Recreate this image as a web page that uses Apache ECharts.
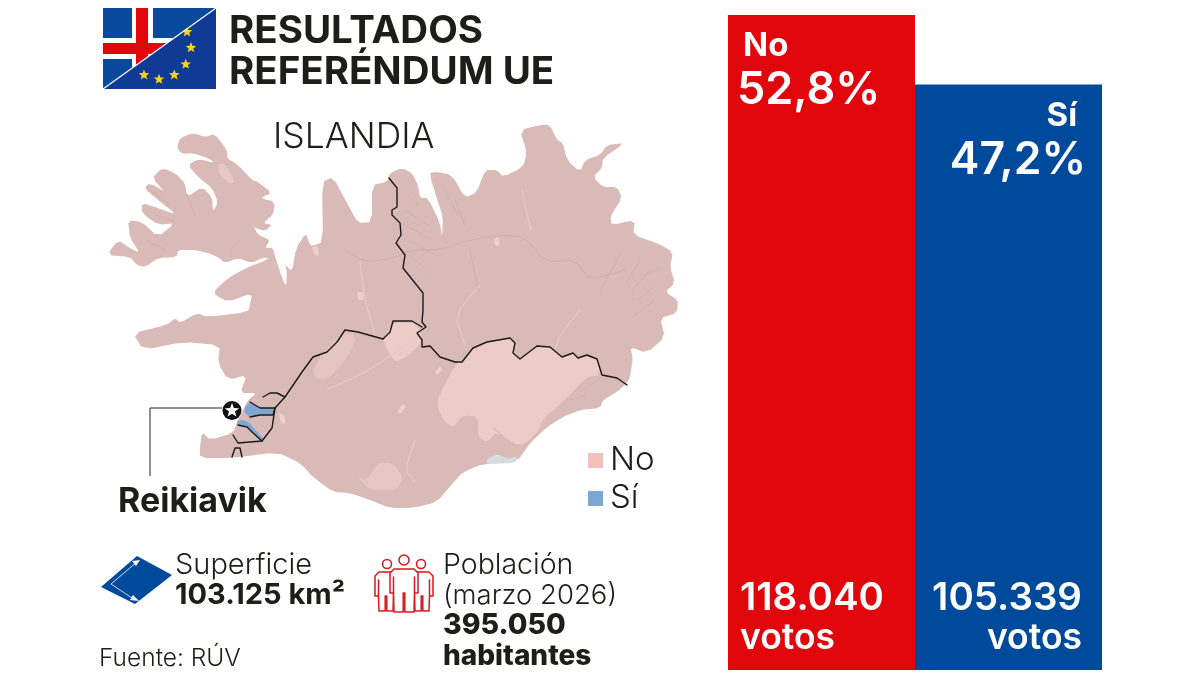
<!DOCTYPE html>
<html><head><meta charset="utf-8">
<style>html,body{margin:0;padding:0;background:#fff}#c{width:1200px;height:675px}</style>
<script src="https://cdn.jsdelivr.net/npm/echarts@6/dist/echarts.min.js"></script>
</head><body><div id="c"></div>
<script>
// ---- chart values ----
const categories = ['No', 'Sí'];
const percentages = [52.8, 47.2];
const votes = [118040, 105339];
const barColors = ['#E0060C', '#004A9B'];
const legendItems = ['No', 'Sí'];

// ---- map outlines ----
const coast = [[107,255],[118,240],[128,247],[140,253],[130,238],[128,220],[142,222],[158,237],[175,223],[158,225],[142,213],[142,203],[158,208],[177,215],[158,200],[144,188],[150,183],[167,193],[152,178],[162,168],[175,173],[185,183],[187,197],[202,187],[212,197],[213,212],[218,202],[212,188],[198,177],[188,165],[198,159],[215,163],[208,158],[192,153],[182,154],[177,148],[180,138],[193,133],[205,137],[215,134],[227,150],[227,158],[238,165],[252,180],[258,182],[272,193],[260,198],[275,202],[273,215],[263,223],[272,225],[265,231],[255,228],[252,223],[258,235],[270,240],[265,248],[273,248],[275,256],[281,275],[286,287],[287,272],[285,263],[292,272],[296,248],[306,233],[309,243],[312,246],[323,242],[322,182],[333,177],[348,205],[358,223],[372,222],[372,185],[387,182],[390,173],[402,168],[412,173],[418,185],[420,198],[428,198],[440,223],[442,238],[443,217],[438,202],[429,173],[437,172],[452,175],[465,198],[477,192],[485,170],[497,170],[503,177],[523,167],[527,153],[520,130],[540,125],[550,125],[557,140],[563,143],[567,160],[580,172],[585,160],[600,155],[607,145],[625,143],[603,158],[602,168],[593,177],[603,187],[617,187],[622,198],[610,217],[612,225],[635,220],[633,235],[657,243],[673,252],[670,267],[675,283],[665,292],[678,300],[677,313],[660,318],[665,337],[647,353],[630,347],[633,358],[630,377],[627,383],[617,392],[603,400],[600,408],[580,410],[563,417],[547,427],[530,443],[517,462],[483,464],[463,472],[453,483],[437,502],[413,508],[390,508],[370,500],[350,493],[333,492],[313,477],[300,463],[277,452],[233,458],[200,458],[200,447],[202,432],[210,440],[233,433],[238,420],[243,410],[248,400],[257,393],[240,393],[247,375],[228,380],[218,363],[220,345],[183,342],[143,350],[133,333],[167,325],[175,318],[180,323],[197,313],[207,317],[248,312],[250,305],[252,293],[228,302],[212,293],[228,278],[248,267],[262,262],[271,257],[262,258],[252,263],[238,258],[225,263],[218,257],[208,253],[195,250],[178,250],[177,257],[158,258],[145,267],[137,265],[130,257]];
const vatnajokull = [[463,362],[473,348],[487,342],[510,338],[515,343],[513,353],[520,359],[537,346],[550,347],[562,357],[573,353],[578,358],[587,355],[597,359],[600,375],[587,377],[567,398],[548,415],[535,435],[520,447],[497,432],[487,442],[478,437],[478,417],[463,415],[453,428],[443,420],[436,403],[448,378],[457,363]];
const hofsjokull = [[383,339],[393,322],[415,323],[420,330],[422,343],[405,358],[395,362],[387,350]];
const langjokull = [[313,367],[340,333],[357,335],[348,357],[327,380],[315,378]];
const myrdalsjokull = [[367,480],[377,463],[393,463],[403,477],[397,490],[370,490],[357,477]];
const drangajokull = [[217,165],[225,163],[235,182],[230,184],[220,175]];
const lakes = [[[397,412],[403,403],[406,407],[401,414]],[[435,372],[440,366],[442,370],[437,375]],[[278,412],[284,415],[286,424],[281,423]],[[495,238],[500,237],[499,247],[494,244]],[[312,247],[318,246],[319,256],[314,255]],[[357,292],[363,292],[364,300],[358,300]]];
const tongue = [[487,459],[497,454],[508,459],[517,456],[516,463],[487,464]];
const siNorth = [[250,402],[260,408],[275,408],[274,414],[260,415],[250,417],[244,412],[245,407]];
const siSouth = [[238,420],[248,421],[257,432],[265,440],[260,441],[252,432],[247,427],[237,425]];

const borderMain = [[389,178],[397,188],[397,207],[392,210],[392,215],[400,223],[401,235],[396,243],[405,255],[403,268],[415,283],[423,293],[423,310],[422,322],[426,327],[417,333],[422,340],[422,347],[430,346],[440,357],[455,362],[462,362],[473,348],[487,342],[510,338],[515,343],[513,353],[520,359],[537,346],[550,347],[562,357],[573,353],[578,358],[587,355],[597,359],[602,375],[617,378],[627,385]];
const borderWest = [[422,327],[412,321],[393,321],[390,332],[383,339],[358,332],[345,330],[337,342],[327,352],[313,357],[302,372],[285,397],[275,408]];
const borderLoop = [[285,397],[277,393],[270,393],[263,397]];
const borderNorthSi = [[250,402],[260,408],[275,408],[273,415],[260,415],[250,417]];
const borderEastSi = [[275,408],[272,428],[262,441],[238,443],[233,435]];
const borderSouthSi = [[238,425],[247,427],[252,432],[262,441]];
const borderGrind = [[232,457],[235,448],[240,448],[242,457]];
const faintDark = [[[345,250],[365,262],[395,258],[410,250],[440,250],[470,240],[500,235],[525,237],[545,262],[575,260],[590,280],[625,270]],[[620,255],[600,290]],[[640,260],[625,285]],[[650,270],[632,290]],[[655,300],[635,315]],[[470,250],[478,290]],[[408,195],[418,205]],[[405,210],[428,225]],[[405,225],[432,240]],[[408,240],[435,255]],[[410,255],[432,275]],[[445,190],[458,215]],[[455,200],[465,225]],[[150,190],[170,205]],[[145,240],[165,250]],[[155,215],[175,222]],[[185,190],[195,215]],[[230,250],[240,240]],[[660,268],[645,275]],[[655,285],[638,300]],[[590,385],[600,378]],[[570,400],[585,395]],[[540,425],[550,412]],[[493,428],[503,436]]];
const faintLight = [[[522,190],[525,205],[531,230]],[[360,262],[365,300],[375,335]],[[480,285],[455,315],[465,345]],[[580,310],[560,335],[555,350]],[[327,390],[370,370],[420,335]],[[415,440],[405,470],[415,482]]];

// ---- style helpers ----
const INK = '#1d1d1b', FONT = 'Inter, "Liberation Sans", sans-serif';
const flip = pts => pts.map(p => [p[0], 675 - p[1]]);
const soften = (pts, closed) => { const out = closed ? [] : [pts[0]]; const n = pts.length; const m = closed ? n : n - 1;
  for (let i = 0; i < m; i++) { const a = pts[i], b = pts[(i + 1) % n]; out.push([a[0]*.8+b[0]*.2, a[1]*.8+b[1]*.2], [a[0]*.2+b[0]*.8, a[1]*.2+b[1]*.8]); }
  if (!closed) out.push(pts[n-1]); return out; };
const poly = (name, pts) => { const s = soften(pts, true); return {type:'Feature', properties:{name}, geometry:{type:'Polygon', coordinates:[flip(s.concat([s[0]]))]}}; };
const features = [poly('Islandia', coast), poly('Vatnajökull', vatnajokull), poly('Hofsjökull', hofsjokull), poly('Langjökull', langjokull), poly('Mýrdalsjökull', myrdalsjokull), poly('Drangajökull', drangajokull), poly('Hielo', tongue), poly('Sí norte', siNorth), poly('Sí sur', siSouth)].concat(lakes.map((l,i)=>poly('Lago '+i, l)));
echarts.registerMap('islandia', {type:'FeatureCollection', features});
const regionFill = {'Islandia':'#D9BAB7','Vatnajökull':'#EDCBC7','Hofsjökull':'#EDCBC7','Langjökull':'#E6C5C1','Mýrdalsjökull':'#E6C6C2','Drangajökull':'#E8C8C5','Hielo':'#D5DDE0','Sí norte':'#7EA6D3','Sí sur':'#7EA6D3'};
const regions = features.map(f => { const n=f.properties.name; return {name:n, itemStyle:{areaColor:regionFill[n]||'#F0CFCB', borderWidth:0}, label:{show:false}, silent:true}; });

const star = (cx,cy,r) => { const a=[]; for(let i=0;i<10;i++){const rr=i%2?r*0.42:r, t=-Math.PI/2+i*Math.PI/5; a.push([cx+rr*Math.cos(t),cy+rr*Math.sin(t)]);} return a; };
const BASE = 0.83;
const T = (x,baseline,text,size,weight,o={}) => ({type:'text',x,y:baseline-BASE*size,silent:true,style:Object.assign({text,fontSize:size,fontWeight:weight,fontFamily:FONT,fill:INK},o)});
const R = (x,y,w,h,fill) => ({type:'rect',shape:{x,y,width:w,height:h},silent:true,style:{fill}});
const P = (points,fill) => ({type:'polygon',shape:{points},silent:true,style:{fill}});
const L = (points,stroke,lw) => ({type:'polyline',shape:{points},silent:true,style:{stroke,fill:null,lineWidth:lw}});
const euStars = [[191,47.7],[185.7,64.3],[174.3,75],[159,79.3],[144,75],[187,32]];
const person = (cx,top,hw,bottom) => ({type:'polygon',silent:true,shape:{points:[[cx-hw+4,top],[cx+hw-4,top],[cx+hw,top+4],[cx+hw,top+24],[cx+hw-3.5,top+24],[cx+hw-3.5,top+8],[cx+hw-3.5,top+24],[cx+hw-4,bottom],[cx+0.8,bottom],[cx+0.8,top+24],[cx-0.8,top+24],[cx-0.8,bottom],[cx-hw+4,bottom],[cx-hw+3.5,top+24],[cx-hw+3.5,top+8],[cx-hw+3.5,top+24],[cx-hw,top+24],[cx-hw,top+4]]},style:{fill:'#fff',stroke:'#D9161E',lineWidth:1.5,lineJoin:'round'}});
const head = (cx,cy,r) => ({type:'circle',silent:true,shape:{cx,cy,r},style:{fill:'#fff',stroke:'#D9161E',lineWidth:1.5}});

const graphics = [
  // flag
  R(103,8,113,81,'#0A4A9C'),
  R(132,8,21,81,'#fff'), R(103,38,113,21,'#fff'),
  R(136,8,12,81,'#E0060C'), R(103,43,113,11,'#E0060C'),
  P([[103,89],[216,8],[216,89]],'#0F3B94'),
  ...euStars.map(s=>P(star(s[0],s[1],5.6),'#FFD617')),
  P([[172,39],[200,19],[172,19]],'#0A4A9C'),
  L([[103,89],[216,8]],'#fff',1.2),
  // titles
  T(229,44,'RESULTADOS',38.5,700), T(229,85,'REFERÉNDUM UE',38.5,700),
  T(273,149,'ISLANDIA',35.5,300),
  // capital marker
  L([[222,408],[150,408],[150,476]],'#222',1),
  {type:'circle',silent:true,shape:{cx:232,cy:410.5,r:9.5},style:{fill:'#111'}},
  P(star(232,410.5,7.5),'#fff'),
  T(118,513,'Reikiavik',34,700),
  // map legend
  R(588,453,15,15,'#F3BFBC'), R(588,491,15,15,'#7EA6D3'),
  T(610,471,legendItems[0],33,300), T(610,509,legendItems[1],33,300),
  // area
  P([[101,587],[137,556],[172,575],[135,604]],'#004A9B'),
  L([[137,562],[111,584],[135,600]],'#fff',0.8),
  P([[140,560],[132,561],[136,566]],'#fff'), P([[139,601],[130,600],[133,595]],'#fff'),
  T(175,575,'Superficie',29,300),
  T(175,605,'103.125 km²',29,700),
  // population
  person(386,572,11,611), person(422,572,11,611),
  head(387,564,4.5), head(421,564,4.5),
  person(404,569,14,612), head(404,560,5),
  T(443,575,'Población',28.5,300),
  T(443,605,'(marzo 2026)',27.5,300),
  T(443,635,'395.050',28.5,800),
  T(443,666,'habitantes',28,800),
  T(99,666,'Fuente: RÚV',24.5,300)
];
const lineSet = (arr,color,width,z) => ({type:'lines',coordinateSystem:'geo',polyline:true,silent:true,z,lineStyle:{color,width,opacity:1,cap:'round',join:'round'},data:arr.map(c=>({coords:flip(c)}))});
const fmtVotes = v => String(v).replace(/\B(?=(\d{3})+$)/g,'.');

const topLabel = (i) => ({show:true,position:i===0?[9,12]:['91.5%',13],align:i===0?'left':'right',verticalAlign:'top',
  formatter:p=>`{n|${p.name}}\n{v|${String(p.value).replace('.',',')}%}`,
  rich:{n:{fontFamily:FONT,fontSize:33,fontWeight:700,color:'#fff',lineHeight:38,align:i===0?'left':'right',padding:i===0?[0,0,0,6]:[0,9,0,0]},v:{fontFamily:FONT,fontSize:i===0?45:44.5,fontWeight:600,color:'#fff',lineHeight:50,align:i===0?'left':'right'}}});
const botLabel = (i) => ({show:true,position:i===0?'insideBottomLeft':'insideBottomRight',distance:12,offset:i===0?[0,0]:[-8,0],
  formatter:p=>`{n|${fmtVotes(votes[i])}}\n{v|votos}`,
  rich:{n:{fontFamily:FONT,fontSize:38.5,fontWeight:600,color:'#fff',lineHeight:39,align:i===0?'left':'right'},v:{fontFamily:FONT,fontSize:35.5,fontWeight:600,color:'#fff',lineHeight:40,align:i===0?'left':'right'}}});

const chart = echarts.init(document.getElementById('c'),null,{renderer:'canvas'});
chart.setOption({
  animation:false,backgroundColor:'#fff',
  geo:{map:'islandia',roam:false,silent:true,aspectScale:1,boundingCoords:[[0,675],[1200,0]],left:0,top:0,width:1200,height:675,z:1,
    itemStyle:{areaColor:'#D9BAB7',borderWidth:0},label:{show:false},emphasis:{disabled:true},select:{disabled:true},regions},
  grid:{left:728,right:98,top:15,bottom:5},
  xAxis:{type:'category',data:categories,show:false},
  yAxis:{type:'value',min:0,max:52.8,show:false},
  series:[
    {type:'bar',barWidth:'100%',silent:true,z:3,data:percentages.map((v,i)=>({value:v,itemStyle:{color:barColors[i]},label:topLabel(i)}))},
    {type:'bar',barWidth:'100%',barGap:'-100%',silent:true,z:4,data:percentages.map((v,i)=>({value:v,itemStyle:{color:'transparent'},label:botLabel(i)}))},
    lineSet(faintDark.map(c=>soften(c,false)),'#CBABA8',0.7,2),
    lineSet(faintLight.map(c=>soften(c,false)),'#E6CBC8',1.1,2),
    lineSet([borderMain,borderWest,borderLoop,borderNorthSi,borderEastSi,borderSouthSi,borderGrind],'#1a1a1a',1.4,3)
  ],
  graphic:{elements:graphics}
});
</script></body></html>
